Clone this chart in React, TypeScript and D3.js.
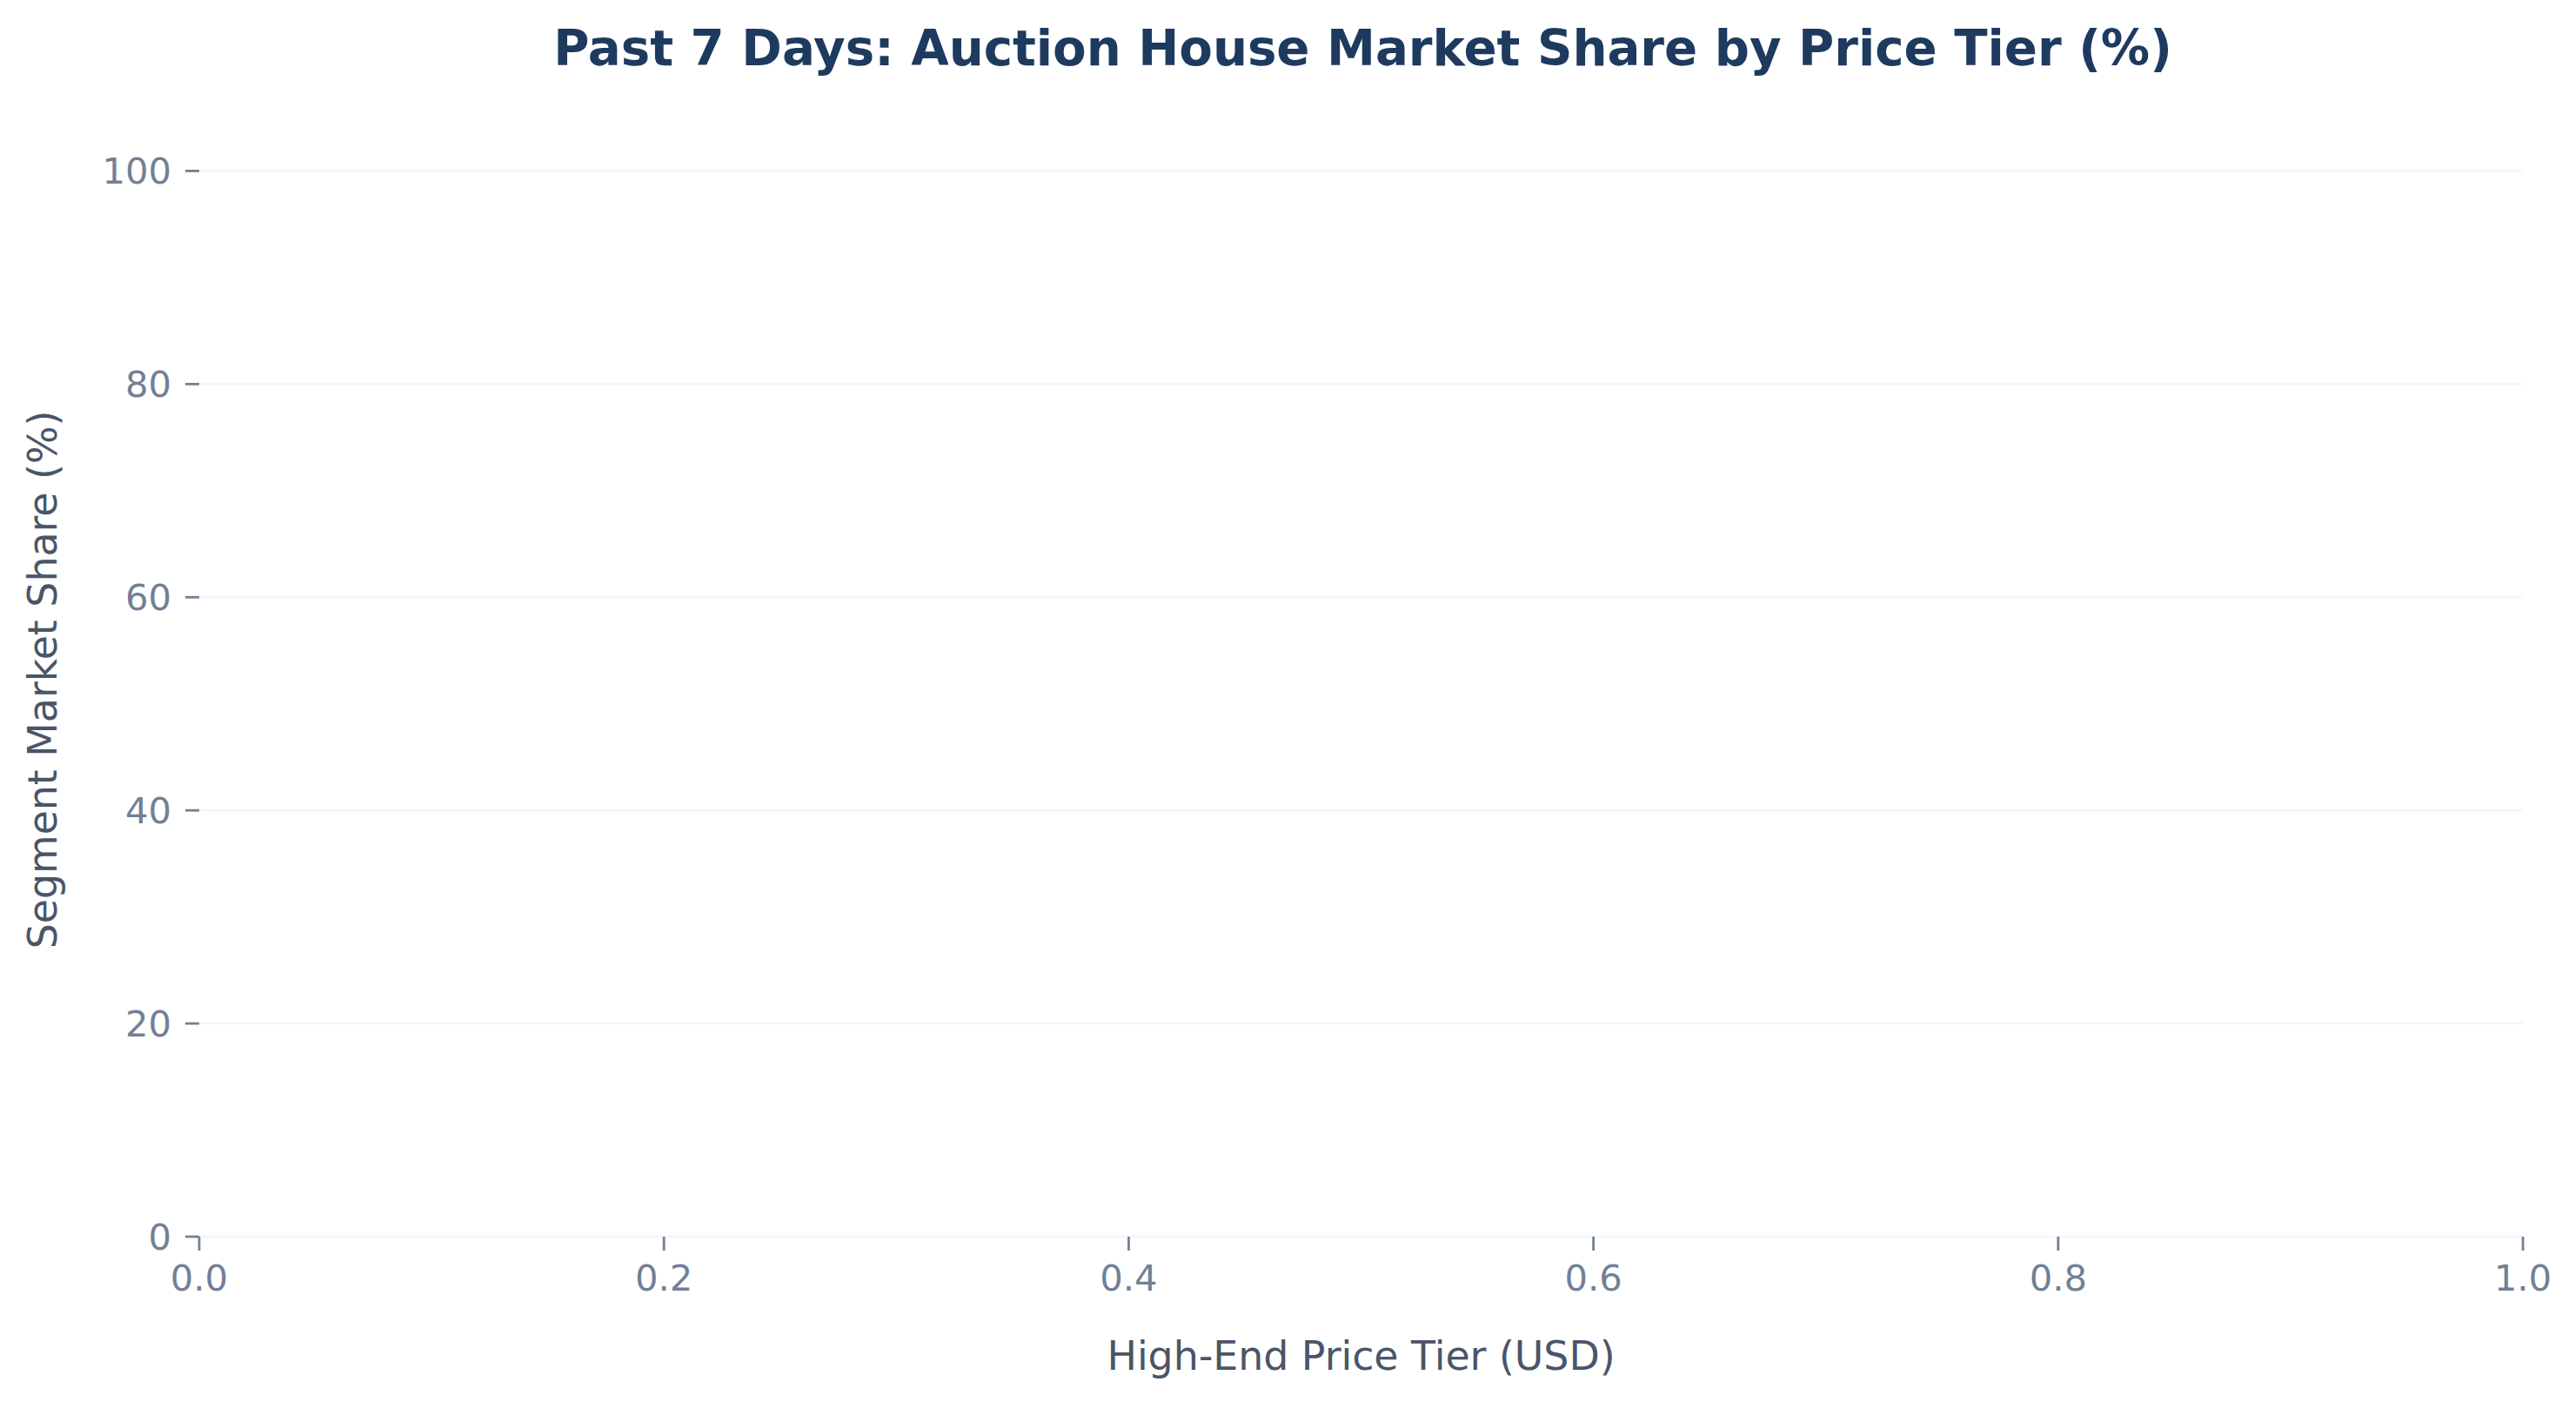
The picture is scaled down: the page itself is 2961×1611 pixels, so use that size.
import React, { useMemo } from "react";
import * as d3 from "d3";

const WIDTH = 2961;
const HEIGHT = 1611;
const MARGIN = { top: 145, right: 61, bottom: 190, left: 229 };

// chart texts
const TITLE = "Past 7 Days: Auction House Market Share by Price Tier (%)";
const X_LABEL = "High-End Price Tier (USD)";
const Y_LABEL = "Segment Market Share (%)";

// axis setup (the plot itself holds no marks)
const X_DOMAIN = [0, 1];
const Y_DOMAIN = [0, 104.2];
const X_TICKS = [0, 0.2, 0.4, 0.6, 0.8, 1.0];
const Y_TICKS = [0, 20, 40, 60, 80, 100];

// series: empty in the reference
const tiers: string[] = [];
const shares: number[] = [];

const FONT = "DejaVu Sans, Liberation Sans, sans-serif";
const TICK_COLOR = "#718096";
const LABEL_COLOR = "#4a5568";
const TITLE_COLOR = "#1e3a5f";
const GRID_COLOR = "#f4f5f7";
const TICK_LEN = 16;

export default function App() {
  const boundsWidth = WIDTH - MARGIN.left - MARGIN.right;
  const boundsHeight = HEIGHT - MARGIN.top - MARGIN.bottom;

  const xScale = useMemo(
    () => d3.scaleLinear().domain(X_DOMAIN).range([0, boundsWidth]),
    [boundsWidth]
  );
  const yScale = useMemo(
    () => d3.scaleLinear().domain(Y_DOMAIN).range([boundsHeight, 0]),
    [boundsHeight]
  );

  const grid = Y_TICKS.map((v, i) => (
    <line
      key={i}
      x1={0}
      x2={boundsWidth}
      y1={yScale(v)}
      y2={yScale(v)}
      stroke={GRID_COLOR}
      strokeWidth={2.5}
    />
  ));

  const yAxis = Y_TICKS.map((v, i) => (
    <g key={i} transform={`translate(0,${yScale(v)})`}>
      <line x1={-TICK_LEN} x2={0} stroke={TICK_COLOR} strokeWidth={2.8} />
      <text
        x={-TICK_LEN - 16}
        dy="0.36em"
        textAnchor="end"
        fontSize={41.7}
        fill={TICK_COLOR}
      >
        {v}
      </text>
    </g>
  ));

  const xAxis = X_TICKS.map((v, i) => (
    <g key={i} transform={`translate(${xScale(v)},${boundsHeight})`}>
      <line y1={0} y2={TICK_LEN} stroke={TICK_COLOR} strokeWidth={2.8} />
      <text
        y={TICK_LEN + 14}
        dy="0.76em"
        textAnchor="middle"
        fontSize={41.7}
        fill={TICK_COLOR}
      >
        {d3.format(".1f")(v)}
      </text>
    </g>
  ));

  // nothing to draw: kept so the marks would come from the scales
  const bars = tiers.map((t, i) => (
    <rect
      key={t}
      x={xScale(i / Math.max(1, tiers.length))}
      y={yScale(shares[i])}
      width={xScale(1 / Math.max(1, tiers.length)) - xScale(0)}
      height={boundsHeight - yScale(shares[i])}
      fill="#2b6cb0"
    />
  ));

  return (
    <svg
      width={WIDTH}
      height={HEIGHT}
      style={{ position: "absolute", left: 0, top: 0, background: "#fff" }}
      fontFamily={FONT}
    >
      <rect width={WIDTH} height={HEIGHT} fill="#ffffff" />
      <text
        x={MARGIN.left + boundsWidth / 2 + 2}
        y={75}
        textAnchor="middle"
        fontSize={56.2}
        fontWeight="bold"
        fill={TITLE_COLOR}
      >
        {TITLE}
      </text>
      <g transform={`translate(${MARGIN.left},${MARGIN.top})`}>
        {grid}
        {bars}
        {yAxis}
        {xAxis}
      </g>
      <text
        x={MARGIN.left + boundsWidth / 2}
        y={1574}
        textAnchor="middle"
        fontSize={45.8}
        fill={LABEL_COLOR}
      >
        {X_LABEL}
      </text>
      <text
        transform={`translate(65,${MARGIN.top + boundsHeight / 2 - 2}) rotate(-90)`}
        textAnchor="middle"
        fontSize={45.8}
        fill={LABEL_COLOR}
      >
        {Y_LABEL}
      </text>
    </svg>
  );
}
